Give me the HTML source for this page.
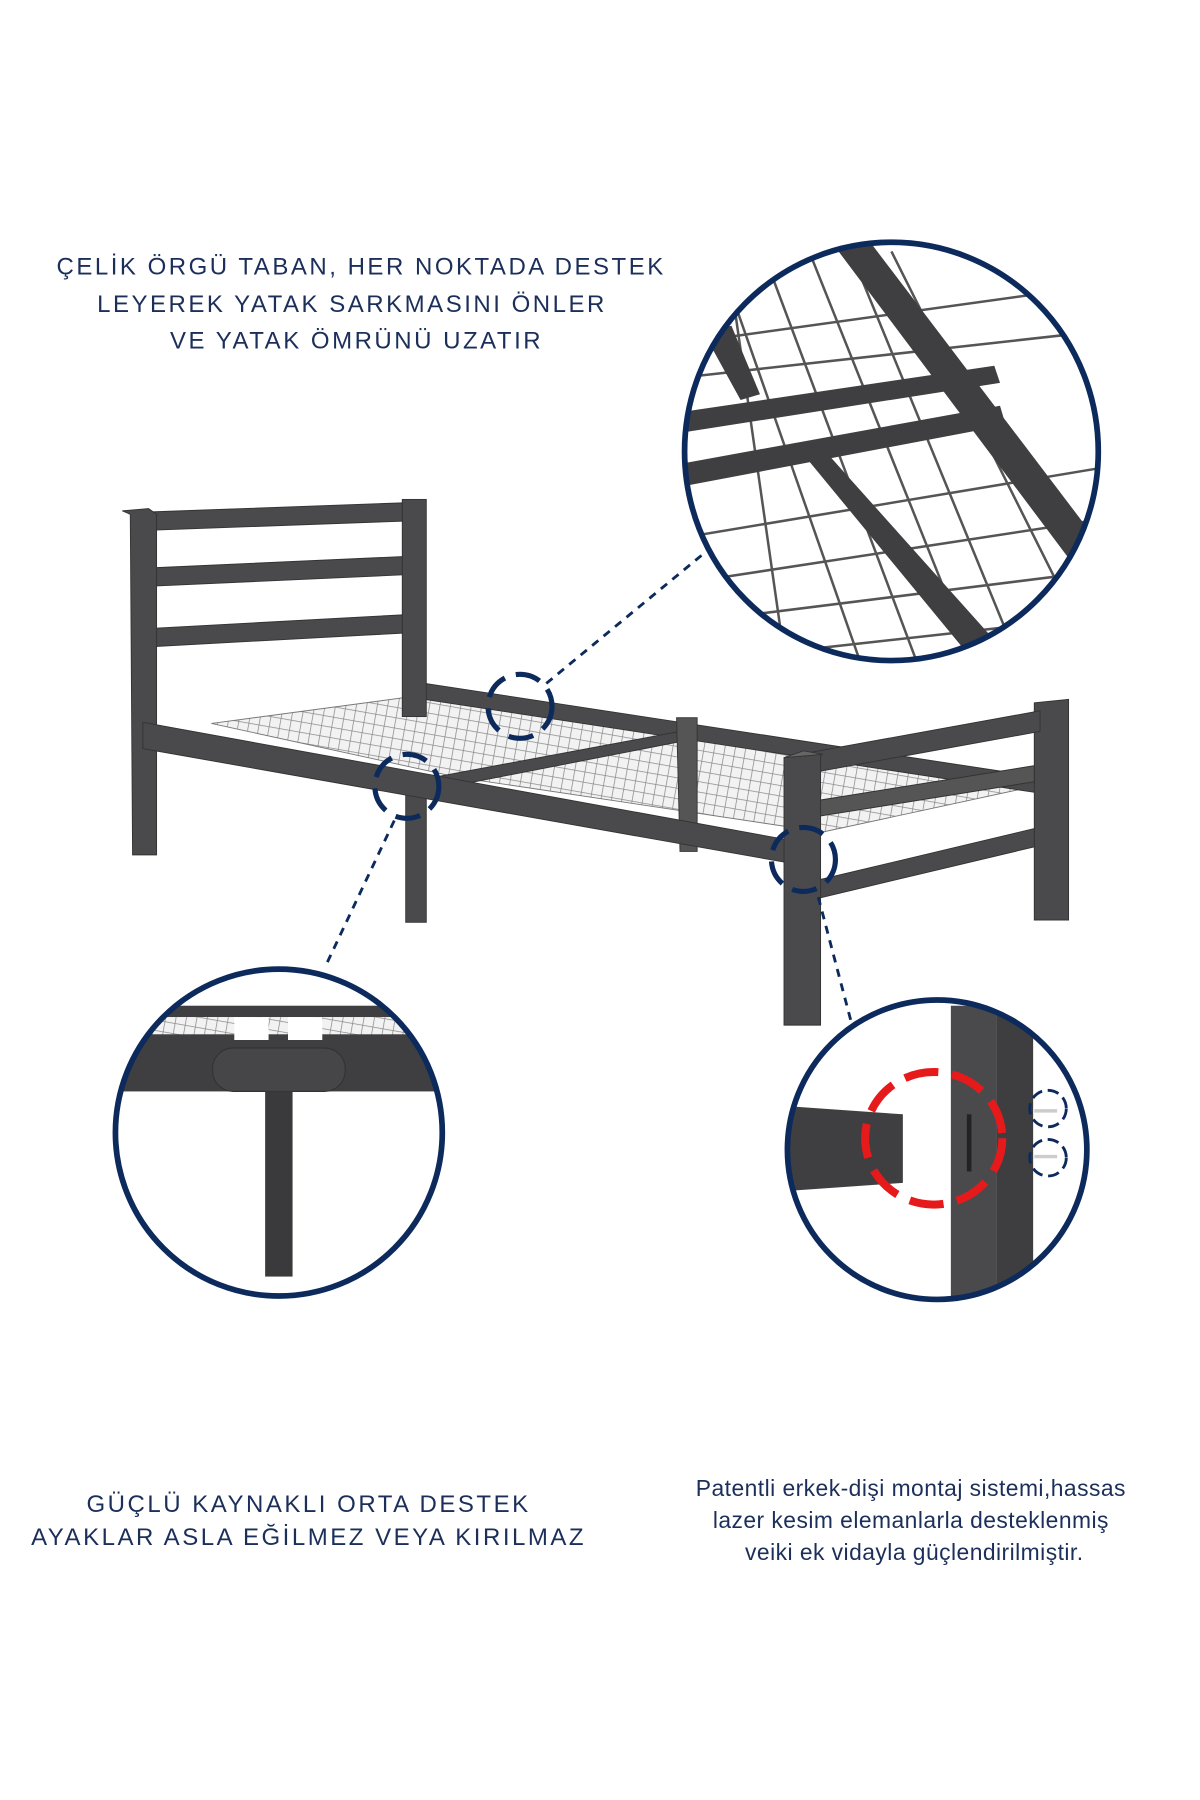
<!DOCTYPE html>
<html><head><meta charset="utf-8"><style>
html,body{margin:0;padding:0;background:#fff;}
svg{display:block}
</style></head><body>
<svg width="1200" height="1800" viewBox="0 0 1050 1575" xmlns="http://www.w3.org/2000/svg">
<defs>
<pattern id="mesh" width="9" height="9" patternUnits="userSpaceOnUse" patternTransform="rotate(10)">
<rect width="9" height="9" fill="#f2f2f2"/>
<path d="M0 0H9M0 0V9" stroke="#8a8a8a" stroke-width="1.3"/>
</pattern>
<clipPath id="c1"><ellipse cx="780" cy="395" rx="181" ry="183"/></clipPath>
<clipPath id="c2"><circle cx="244" cy="991" r="143"/></clipPath>
<clipPath id="c3"><circle cx="820" cy="1006" r="131"/></clipPath>
</defs>
<rect width="1050" height="1575" fill="#fff"/>

<g font-family="Liberation Sans, sans-serif" fill="#1b2f5a" font-size="21" letter-spacing="2.2" text-anchor="middle">
<text x="316" y="240">ÇELİK ÖRGÜ TABAN, HER NOKTADA DESTEK</text>
<text x="308" y="273">LEYEREK YATAK SARKMASINI ÖNLER</text>
<text x="312" y="305">VE YATAK ÖMRÜNÜ UZATIR</text>
<text x="270" y="1323">GÜÇLÜ KAYNAKLI ORTA DESTEK</text>
<text x="270" y="1352">AYAKLAR ASLA EĞİLMEZ VEYA KIRILMAZ</text>
</g>
<g font-family="Liberation Sans, sans-serif" fill="#1b2f5a" font-size="20" text-anchor="middle" letter-spacing="0.4">
<text x="797" y="1309">Patentli erkek-dişi montaj sistemi,hassas</text>
<text x="797" y="1337">lazer kesim elemanlarla desteklenmiş</text>
<text x="800" y="1365">veiki ek vidayla güçlendirilmiştir.</text>
</g>

<g fill="#4a4a4c" stroke="#333" stroke-width="0.8">
<polygon points="185,633 372,608 595,640 905,688 720,728 400,680" fill="url(#mesh)" stroke="#777"/>
<polygon points="372,598 910,680 910,694 372,612"/>
<rect x="352" y="437" width="21" height="190"/>
<polygon points="130,448 352,440 352,456 130,464"/>
<polygon points="130,497 352,487 352,503 130,513"/>
<polygon points="130,550 352,538 352,554 130,566"/>
<polygon points="107,447 130,445 137,450 137,748 116,748 114,450"/>
<polygon points="380,680 595,640 600,648 385,690"/>
<polygon points="592,628 610,628 610,745 595,745" fill="#555"/>
<rect x="355" y="690" width="18" height="117"/>
<polygon points="125,632 690,735 690,755 125,655"/>
<polygon points="905,615 935,612 935,805 905,805"/>
<polygon points="700,660 910,622 910,640 700,678"/>
<polygon points="716,770 905,725 905,741 716,786"/>
<polygon points="718,700 905,670 905,684 718,714" fill="#555"/>
<polygon points="686,663 718,660 718,897 686,897"/>
<polygon points="686,663 703,657 720,660" fill="#666"/>
</g>

<g fill="none" stroke="#0d2a5c" stroke-width="2.5" stroke-dasharray="7,6">
<line x1="478" y1="598" x2="615" y2="485"/>
<line x1="345" y1="718" x2="285" y2="845"/>
<line x1="716" y1="785" x2="745" y2="895"/>
</g>
<g fill="none" stroke="#0d2a5c" stroke-width="4.5" stroke-dasharray="22,10">
<circle cx="455" cy="618" r="28"/>
<circle cx="356" cy="688" r="28"/>
<circle cx="703" cy="752" r="28"/>
</g>

<g clip-path="url(#c1)">
<rect x="590" y="200" width="380" height="390" fill="#fff"/>
<g stroke="#555" stroke-width="2.2" fill="none">
<path d="M600 300L960 250M600 330L960 290M600 470L960 410M600 510L960 455M600 545L960 500M600 580L960 540"/>
<path d="M620 200L760 600M660 200L810 600M700 200L860 600M740 210L900 600M780 220L950 560M640 250L690 600"/>
</g>
<g fill="#3f3f41">
<polygon points="730,215 760,210 965,480 940,495"/>
<polygon points="600,360 870,320 875,335 600,378"/>
<polygon points="600,405 875,355 880,372 600,425"/>
<polygon points="705,400 725,398 870,560 845,570"/>
<polygon points="615,290 640,285 665,345 648,350"/>
</g>
</g>
<ellipse cx="780" cy="395" rx="181" ry="183" fill="none" stroke="#0d2a5c" stroke-width="5"/>

<g clip-path="url(#c2)">
<rect x="100" y="850" width="290" height="290" fill="#fff"/>
<rect x="100" y="880" width="290" height="10" fill="#3f3f41"/>
<rect x="130" y="890" width="260" height="18" fill="url(#mesh)"/>
<rect x="100" y="905" width="290" height="50" fill="#3f3f41"/>
<rect x="205" y="890" width="30" height="20" fill="#fff"/>
<rect x="252" y="890" width="30" height="20" fill="#fff"/>
<rect x="186" y="917" width="116" height="38" rx="18" fill="#464648" stroke="#333"/>
<rect x="232" y="955" width="24" height="162" fill="#3a3a3c"/>
</g>
<circle cx="244" cy="991" r="143" fill="none" stroke="#0d2a5c" stroke-width="5"/>

<g clip-path="url(#c3)">
<rect x="680" y="870" width="280" height="280" fill="#fff"/>
<polygon points="690,968 790,975 790,1035 690,1042" fill="#3f3f41"/>
<rect x="832" y="880" width="40" height="260" fill="#4a4a4c"/>
<rect x="872" y="880" width="32" height="260" fill="#3e3e40"/>
<rect x="846" y="975" width="4" height="50" fill="#222"/>
<g stroke="#ccc" stroke-width="3"><line x1="905" y1="972" x2="925" y2="972"/><line x1="905" y1="1012" x2="925" y2="1012"/></g>
</g>
<circle cx="820" cy="1006" r="131" fill="none" stroke="#0d2a5c" stroke-width="5"/>
<ellipse cx="817" cy="996" rx="60" ry="58" fill="none" stroke="#e61a1a" stroke-width="7" stroke-dasharray="30,12"/>
<g fill="none" stroke="#0d2a5c" stroke-width="2.5" stroke-dasharray="10,5">
<circle cx="917" cy="970" r="16"/>
<circle cx="917" cy="1013" r="16"/>
</g>
</svg>
</body></html>
